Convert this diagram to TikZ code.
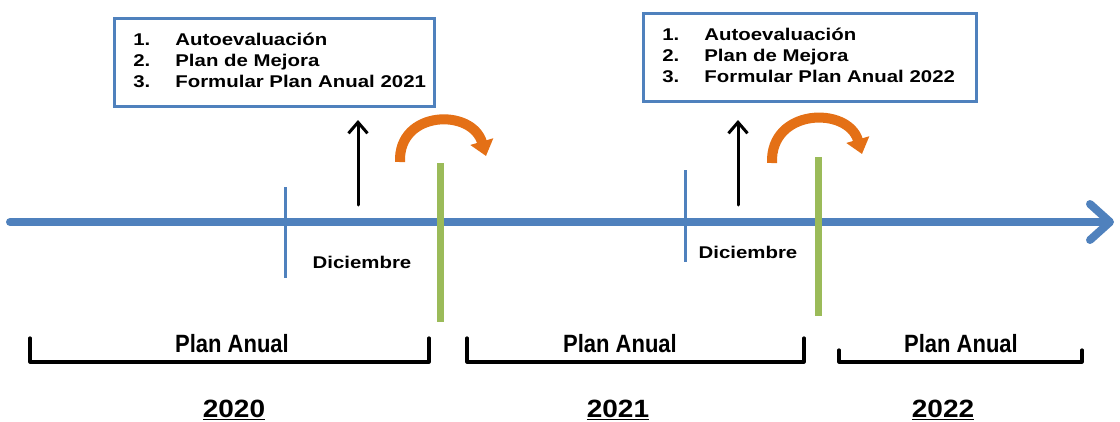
\documentclass[tikz,border=0pt]{standalone}
\usepackage{fontspec}
\setmainfont{Liberation Sans}
\newfontfamily\widefont[FakeStretch=1.2]{Liberation Sans Bold}
\newfontfamily\yearfont[FakeStretch=1.12]{Liberation Sans Bold}
\newfontfamily\narrowfont[FakeStretch=0.88]{Liberation Sans Bold}
\usetikzlibrary{arrows.meta}
\definecolor{axisblue}{RGB}{79,129,189}
\definecolor{bargreen}{RGB}{155,187,89}
\definecolor{turnorange}{RGB}{228,112,22}
\begin{document}
\begin{tikzpicture}[x=1pt,y=-1pt,
    infobox/.style={draw=axisblue,line width=2.8pt,anchor=north west,minimum height=88pt,
      inner xsep=19pt,align=left,font=\widefont\fontsize{17}{21}\selectfont},
    monthlbl/.style={font=\widefont\fontsize{17}{20}\selectfont},
    planlbl/.style={font=\narrowfont\fontsize{25}{28}\selectfont},
    yearlbl/.style={font=\yearfont\fontsize{25}{28}\selectfont},
    bracket/.style={line width=3.2pt,line cap=round,line join=round},
    tick/.style={draw=axisblue,line width=3pt},
    greenbar/.style={draw=bargreen,line width=7pt},
    upline/.style={-{Straight Barb[length=11pt,width=19pt]},line width=3pt,line cap=round},
    turn/.style={-{Triangle[length=15pt,width=23pt]},draw=turnorange,line width=10pt}]
  \useasboundingbox (0,0) rectangle (1120,421);

  % main time line
  \coordinate (ax0) at (10,222);
  \coordinate (ax1) at (1114,222);
  \draw[axisblue,line width=8pt,line cap=round,
    -{Straight Barb[length=20pt,width=36pt,line cap=round,line join=round]}] (ax0) -- (ax1);

  % ticks and year limits
  \draw[tick] (285,187) -- (285,278);
  \draw[tick] (685,170) -- (685,262);
  \draw[greenbar] (440,163) -- (440,322);
  \draw[greenbar] (818,157) -- (818,316);

  % boxes
  \node[infobox,text width=282pt] (box1) at (113,17) {%
    \begin{tabular}{@{}p{42pt}@{}l@{}}
      1. & Autoevaluación\\
      2. & Plan de Mejora\\
      3. & Formular Plan Anual 2021
    \end{tabular}};
  \node[infobox,text width=295pt] (box2) at (642,12) {%
    \begin{tabular}{@{}p{42pt}@{}l@{}}
      1. & Autoevaluación\\
      2. & Plan de Mejora\\
      3. & Formular Plan Anual 2022
    \end{tabular}};

  \coordinate (up1a) at (358,205);
  \coordinate (up1b) at (358,120);
  \coordinate (up2a) at (738,205);
  \coordinate (up2b) at (738,120);
  \draw[upline] (up1a) -- (up1b);
  \draw[upline] (up2a) -- (up2b);

  \coordinate (tn1a) at (400,162);
  \coordinate (tn1b) at (486,156);
  \coordinate (tn2a) at (772,163);
  \coordinate (tn2b) at (862,154);
  \draw[turn] (tn1a) .. controls (398,110) and (472,108) .. (tn1b);
  \draw[turn] (tn2a) .. controls (770,108) and (848,106) .. (tn2b);

  \node[monthlbl] (dic1) at (362,262) {Diciembre};
  \node[monthlbl] (dic2) at (748,252) {Diciembre};

  % annual plans
  \draw[bracket] (30,338) |- (429,362) -- (429,338);
  \draw[bracket] (467,338) |- (804,362) -- (804,338);
  \draw[bracket] (839,350) |- (1082,362) -- (1082,350);
  \node[planlbl] (plan1) at (232,344) {Plan Anual};
  \node[planlbl] (plan2) at (620,344) {Plan Anual};
  \node[planlbl] (plan3) at (961,344) {Plan Anual};

  \node[yearlbl] (y2020) at (234,410) {\underline{2020}};
  \node[yearlbl] (y2021) at (618,410) {\underline{2021}};
  \node[yearlbl] (y2022) at (943,410) {\underline{2022}};
\end{tikzpicture}
\end{document}
